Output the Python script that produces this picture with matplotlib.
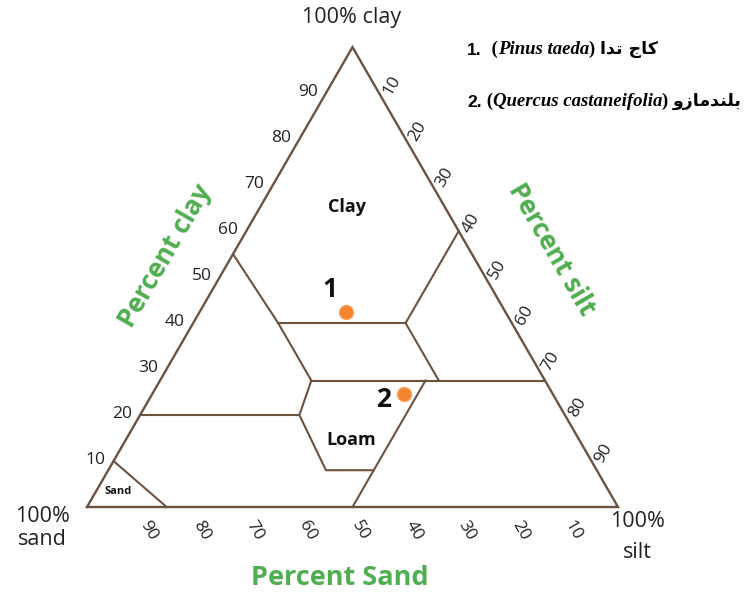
import numpy as np
import matplotlib.pyplot as plt

# texture class boundaries, each point is (sand, silt, clay) in percent
clay_border = [(45, 0, 55), (44, 16, 40), (44, 28.5, 27.5), (50, 30, 20), (51, 41, 8), (42, 50, 8)]
clay_bottom = [(44, 16, 40), (20, 40, 40)]
silty_clay_left = [(20, 40, 40), (0, 40, 60)]
silty_clay_down = [(20, 40, 40), (20, 52.5, 27.5)]
clay27_line = [(44, 28.5, 27.5), (0, 72.5, 27.5)]
silt50_line = [(22.5, 50, 27.5), (50, 50, 0)]
clay20_line = [(80, 0, 20), (50, 30, 20)]
sand_corner = [(90, 0, 10), (85, 15, 0)]
boundaries = [clay_border, clay_bottom, silty_clay_left, silty_clay_down,
              clay27_line, silt50_line, clay20_line, sand_corner]

# texture class names and where they sit
texture_names = ['Clay', 'Loam', 'Sand']
texture_sand = [18.4, 43, 92.5]
texture_silt = [16.4, 42.4, 4.2]
texture_clay = [65.2, 14.6, 3.3]
texture_size = [13, 13, 8]

# measured samples
sample_ids = ['1', '2']
sample_sand = [30, 28]
sample_silt = [27.6, 47.4]
sample_clay = [42.4, 24.6]

ticks = [10, 20, 30, 40, 50, 60, 70, 80, 90]

H = np.sqrt(3) / 2
LINE = '#6e5240'
GREEN = '#4fae4f'
FONT = 'Open Sans'


def tern(sand, silt, clay):
    """(sand, silt, clay) percent -> x, y in the plot"""
    sand, silt, clay = np.asarray(sand, float), np.asarray(silt, float), np.asarray(clay, float)
    x = silt / 100 + clay / 200
    y = clay / 100 * H
    return x, y


fig = plt.figure(figsize=(7.56, 5.92), dpi=100)
ax = fig.add_axes([0, 0, 1, 1])
ax.set_xlim(-87 / 531, (756 - 87) / 531)
ax.set_ylim(-85 / 531, (592 - 85) / 531)
ax.axis('off')

# outer triangle
cx, cy = tern([100, 0, 0, 100], [0, 100, 0, 0], [0, 0, 100, 0])
ax.plot(cx, cy, color=LINE, lw=1.7, solid_joinstyle='miter')

for seg in boundaries:
    s, si, c = zip(*seg)
    x, y = tern(s, si, c)
    ax.plot(x, y, color=LINE, lw=1.5)

# tick labels
for t in ticks:
    # clay, left edge
    x, y = tern(100 - t, 0, t)
    ax.annotate(str(t), (x, y), xytext=(-6, 1), textcoords='offset points',
                ha='right', va='center', fontsize=12.5, family=FONT, color='#222222')
    # silt, right edge
    x, y = tern(0, t, 100 - t)
    ax.annotate(str(t), (x, y), xytext=(9, 5.5), textcoords='offset points',
                ha='center', va='center', rotation=60, rotation_mode='anchor',
                fontsize=12.5, family=FONT, color='#222222')
    # sand, bottom edge
    x, y = tern(t, 100 - t, 0)
    ax.annotate(str(t), (x, y), xytext=(6, -17), textcoords='offset points',
                ha='center', va='center', rotation=-60, rotation_mode='anchor',
                fontsize=12.5, family=FONT, color='#222222')

# corner labels
x, y = tern(0, 0, 100)
ax.annotate('100% clay', (x, y), xytext=(-1, 21), textcoords='offset points',
            ha='center', va='center', fontsize=15.5, family=FONT, color='#222222')
x, y = tern(100, 0, 0)
ax.annotate('100%\nsand', (x, y), xytext=(-32, -15), textcoords='offset points',
            ha='center', va='center', fontsize=15.5, family=FONT, color='#222222', linespacing=1.1)
x, y = tern(0, 100, 0)
ax.annotate('100%\nsilt', (x, y), xytext=(14, -21.5), textcoords='offset points',
            ha='center', va='center', fontsize=15.5, family=FONT, color='#222222', linespacing=1.6)

# axis titles
x, y = tern(50, 0, 50)
ax.annotate('Percent clay', (x, y), xytext=(-39, 15), textcoords='offset points',
            ha='center', va='center', rotation=60, fontsize=19, fontweight='bold',
            family=FONT, color=GREEN)
x, y = tern(0, 50, 50)
ax.annotate('Percent silt', (x, y), xytext=(48, 20), textcoords='offset points',
            ha='center', va='center', rotation=-60, fontsize=19, fontweight='bold',
            family=FONT, color=GREEN)
x, y = tern(50, 50, 0)
ax.annotate('Percent Sand', (x, y), xytext=(-9, -51), textcoords='offset points',
            ha='center', va='center', fontsize=19.5, fontweight='bold',
            family=FONT, color=GREEN)

# texture names
for name, s, si, c, fs in zip(texture_names, texture_sand, texture_silt, texture_clay, texture_size):
    x, y = tern(s, si, c)
    ax.text(x, y, name, ha='center', va='center', fontsize=fs, fontweight='bold',
            family=FONT, color='#111111')

# samples
sx, sy = tern(sample_sand, sample_silt, sample_clay)
ax.plot(sx, sy, 'o', color='#f5852c', markersize=10, markeredgecolor='#f7a05a',
        markeredgewidth=1, zorder=5)
label_offsets = [(-12, 16.5), (-15, -4)]
for sid, x, y, off in zip(sample_ids, sx, sy, label_offsets):
    ax.annotate(sid, (x, y), xytext=off, textcoords='offset points',
                ha='center', va='center', fontsize=19, fontweight='bold',
                family=FONT, color='#111111')

# species key (Persian names written in display-order presentation forms)
species = [
    ('1.', '  (', 'Pinus taeda', ') ', '\ufe8d\ufeaa\ufe97 \ufe9d\ufe8e\ufb90'),
    ('2.', ' (', 'Quercus castaneifolia', ') ',
     '\ufeed\ufeaf\ufe8e\ufee3\ufeaa\ufee8\ufee0\ufe91'),
]
key_y = [0.902, 0.814]
serif = ['Liberation Serif', 'DejaVu Serif']
for row, yk in zip(species, key_y):
    num, op, latin, cl, fa = row
    t = ax.text(0.618, yk, num, transform=ax.transAxes, ha='left', va='bottom',
                fontsize=12.5, fontweight='bold', family='Liberation Sans')
    styles = [(op, serif, 'normal'), (latin, serif, 'italic'),
              (cl, serif, 'normal'), (fa, ['DejaVu Sans'], 'normal')]
    for txt, fam, sty in styles:
        t = ax.annotate(txt, xy=(1, 0), xycoords=t, ha='left', va='bottom',
                        fontsize=13.5 if fam is serif else 12.5, fontweight='bold',
                        fontstyle=sty, family=fam)

fig.savefig('out.png', dpi=100)
